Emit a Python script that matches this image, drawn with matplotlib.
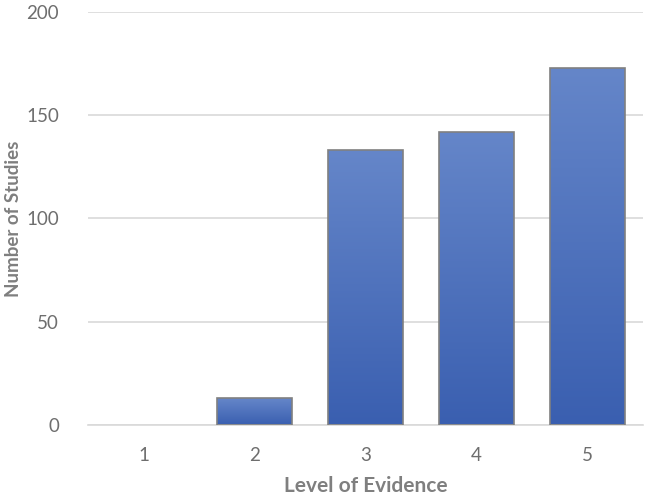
import matplotlib
matplotlib.use("Agg")
import matplotlib.pyplot as plt
import numpy as np
from matplotlib.colors import LinearSegmentedColormap

levels = ["1", "2", "3", "4", "5"]
studies = [0, 13, 133, 142, 173]

TOP = "#6586C9"
BOTTOM = "#3A5FB0"
EDGE = "#808080"
GRID = "#D9D9D9"
TICK = "#6E6E6E"
LABEL = "#7F7F7F"

plt.rcParams["font.family"] = ["Lato", "DejaVu Sans"]

fig = plt.figure(figsize=(6.48, 4.97), dpi=100)
ax = fig.add_axes([0.136, 0.145, 0.856, 0.831])

cmap = LinearSegmentedColormap.from_list("bar", [BOTTOM, TOP])
grad = np.linspace(0, 1, 256).reshape(-1, 1)

x = np.arange(len(levels))
bars = ax.bar(x, studies, width=0.675, color="none", edgecolor=EDGE,
              linewidth=1.2, zorder=3)
for b in bars:
    h = b.get_height()
    if h <= 0:
        b.set_linewidth(0)  # empty category: nothing drawn
        continue
    x0 = b.get_x()
    im = ax.imshow(grad, cmap=cmap, aspect="auto", origin="lower",
                   extent=(x0, x0 + b.get_width(), 0, h), zorder=2)
    im.set_clip_path(b)

ax.set_xlim(-0.5, len(levels) - 0.5)
ax.set_ylim(0, 200)
ax.set_yticks([0, 50, 100, 150, 200])
ax.set_xticks(x)
ax.set_xticklabels(levels)
ax.grid(axis="y", color=GRID, lw=1.2, zorder=0)
ax.set_axisbelow(True)
for s in ("top", "right", "left"):
    ax.spines[s].set_visible(False)
ax.spines["bottom"].set_color(GRID)
ax.spines["bottom"].set_linewidth(1.2)
ax.tick_params(length=0, colors=TICK, labelsize=13.5)
ax.tick_params(axis="y", pad=21)
ax.tick_params(axis="x", pad=16)

ax.set_xlabel("Level of Evidence", fontsize=15, fontweight="bold", color=LABEL)
ax.set_ylabel("Number of Studies", fontsize=13.5, fontweight="bold", color=LABEL)
ax.xaxis.set_label_coords(0.5, -0.124)
ax.yaxis.set_label_coords(-0.119, 0.5)

fig.savefig("out.png", dpi=100, facecolor="white")
